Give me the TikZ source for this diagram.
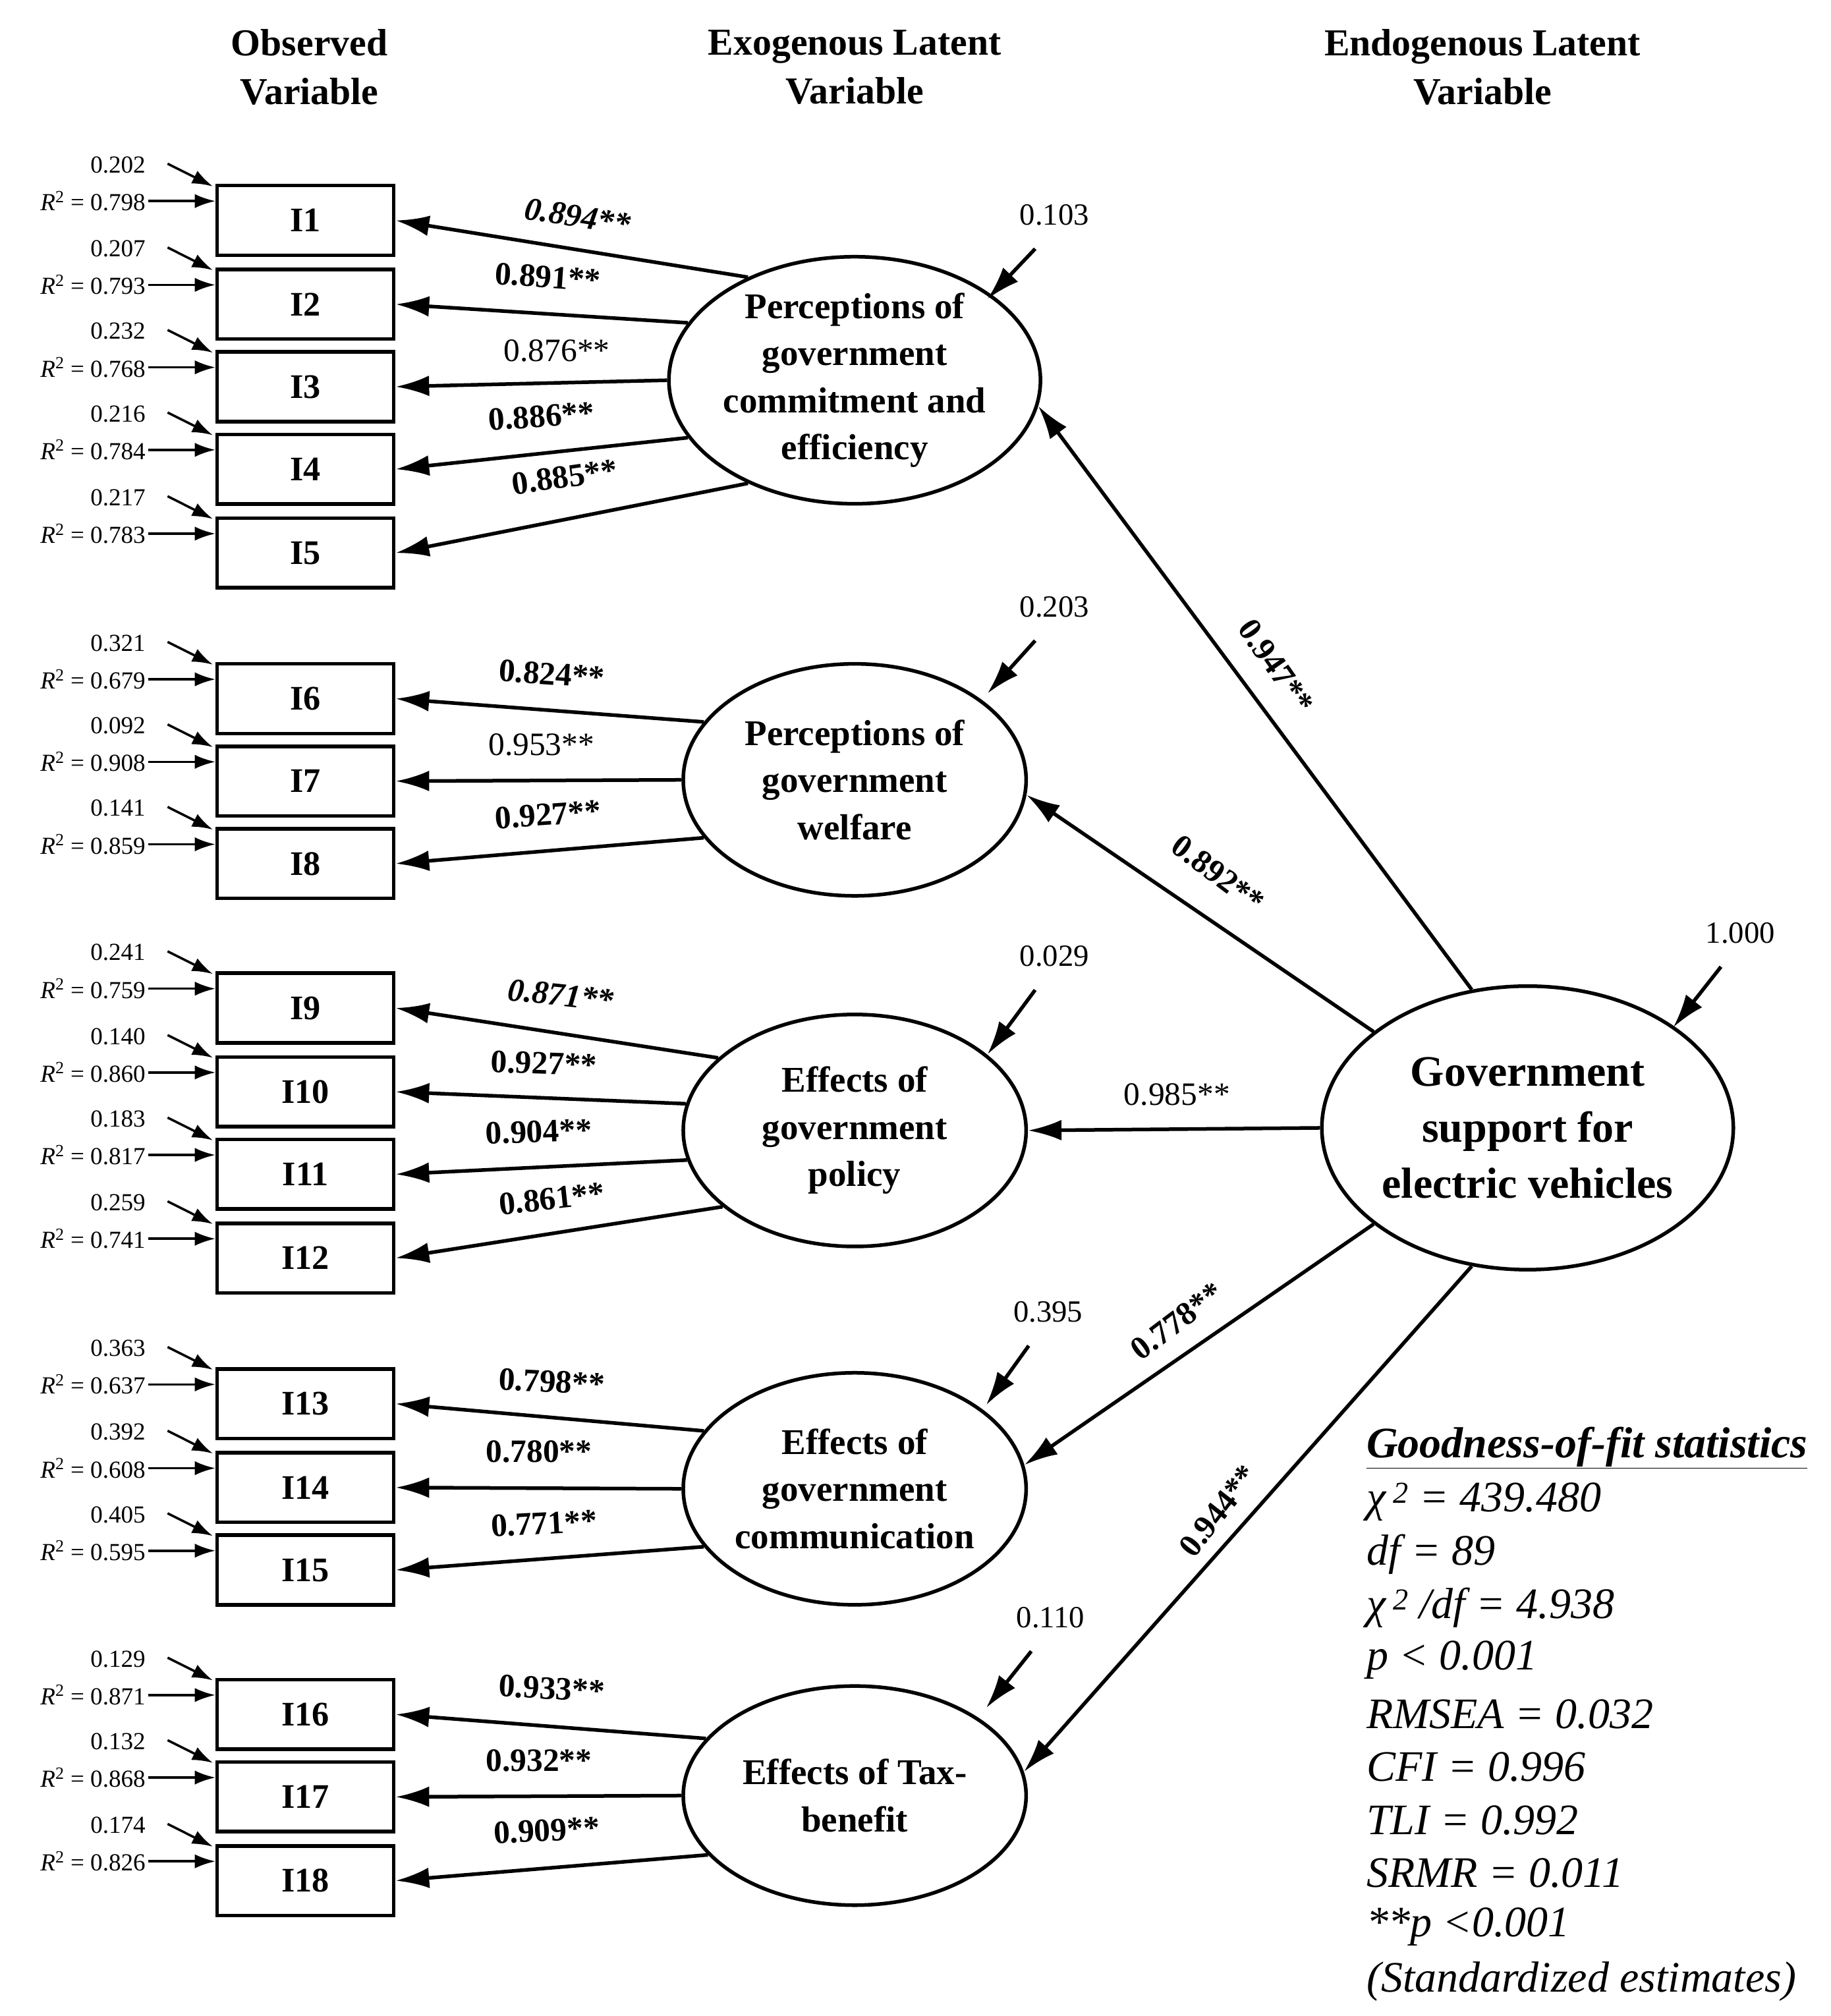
\documentclass[tikz,border=0pt]{standalone}
\usepackage{fontspec}
\setmainfont{Liberation Serif}
\usetikzlibrary{arrows.meta,shapes.geometric}
\newcommand{\fsz}[2]{\fontsize{#1}{#2}\selectfont}
\begin{document}
\begin{tikzpicture}[x=0.05cm,y=-0.05cm,
 box/.style={draw,line width=4pt,minimum width=6.85cm,minimum height=2.7cm,inner sep=0pt,font=\fsz{38}{46}\bfseries},
 lat/.style={draw,ellipse,line width=4pt,minimum width=13.3cm,minimum height=9cm,inner sep=0pt,align=center,font=\fsz{40}{52}\bfseries},
 big/.style={draw,ellipse,line width=4pt,minimum width=15.7cm,minimum height=11cm,inner sep=0pt,align=center,font=\fsz{48}{62}\bfseries},
 arr/.style={line width=4pt,-{Latex[length=1.3cm,width=0.8cm]}},
 sarr/.style={line width=2.6pt,-{Latex[length=0.8cm,width=0.55cm]}},
 lab/.style={font=\fsz{36}{40}\bfseries},
 labn/.style={font=\fsz{36}{40}},
 sm/.style={font=\fsz{27}{30},anchor=east,inner sep=0pt},
 res/.style={font=\fsz{34}{40}},
 hdr/.style={align=center,font=\fsz{42}{54}\bfseries},
 gof/.style={anchor=west,inner sep=0pt,font=\fsz{48}{58}\itshape}]
\useasboundingbox (0,0) rectangle (1420,1564);
\node[hdr] (h1) at (240,52) {Observed\\Variable};
\node[hdr] (h2) at (663,52) {Exogenous Latent\\Variable};
\node[hdr] (h3) at (1150,52) {Endogenous Latent\\Variable};
% boxes
\foreach \n/\y/\e/\r in {1/171/0.202/0.798,2/236/0.207/0.793,3/300/0.232/0.768,4/364/0.216/0.784,5/429/0.217/0.783,6/542/0.321/0.679,7/606/0.092/0.908,8/670/0.141/0.859,9/782/0.241/0.759,10/847/0.140/0.860,11/911/0.183/0.817,12/976/0.259/0.741,13/1089/0.363/0.637,14/1154/0.392/0.608,15/1218/0.405/0.595,16/1330/0.129/0.871,17/1394/0.132/0.868,18/1459/0.174/0.826}{
 \node[box] (I\n) at (237,\y) {I\n};
 \coordinate (d\n) at (130,\y-44);
 \coordinate (h\n) at (115,\y-15);
 \draw[sarr] (d\n) -- ([xshift=-0.1cm,yshift=-0.1cm]I\n.north west);
 \draw[sarr] (h\n) -- (I\n.west |- h\n);
 \node[sm] (e\n) at (113,\y-43) {\e};
 \node[sm] (r\n) at (113,\y-15) {\textit{R}\textsuperscript{2} = \r};
}
% latent
\node[lat] (E1) at (663,295) {Perceptions of\\government\\commitment and\\efficiency};
\node[lat] (E2) at (663,605) {Perceptions of\\government\\welfare};
\node[lat] (E3) at (663,877) {Effects of\\government\\policy};
\node[lat] (E4) at (663,1155) {Effects of\\government\\communication};
\node[lat,minimum height=8.5cm] (E5) at (663,1393) {Effects of Tax-\\benefit};
\node[big] (G) at (1185,875) {Government\\support for\\electric vehicles};
% loadings arrows
\draw[arr] (E1.136) -- (I1.east);
\draw[arr] (E1.161) -- (I2.east);
\draw[arr] (E1.180) -- (I3.east);
\draw[arr] (E1.199) -- (I4.east);
\draw[arr] (E1.224) -- (I5.east);
\draw[arr] (E2.159) -- (I6.east);
\draw[arr] (E2.180) -- (I7.east);
\draw[arr] (E2.201) -- (I8.east);
\draw[arr] (E3.152) -- (I9.east);
\draw[arr] (E3.171) -- (I10.east);
\draw[arr] (E3.190) -- (I11.east);
\draw[arr] (E3.210) -- (I12.east);
\draw[arr] (E4.159) -- (I13.east);
\draw[arr] (E4.180) -- (I14.east);
\draw[arr] (E4.201) -- (I15.east);
\draw[arr] (E5.159) -- (I16.east);
\draw[arr] (E5.180) -- (I17.east);
\draw[arr] (E5.202) -- (I18.east);
% structural
\draw[arr] (G.112) -- (E1.-8);
\draw[arr] (G.148) -- (E2.-5);
\draw[arr] (G.180) -- (E3.0);
\draw[arr] (G.212) -- (E4.8);
\draw[arr] (G.248) -- (E5.8);
% residuals
\foreach \E/\x/\y/\v in {E1/818/167/0.103,E2/818/471/0.203,E3/818/742/0.029,E4/813/1018/0.395,E5/815/1255/0.110,G/1350/724/1.000}{
 \node[res] (v\E) at (\x,\y) {\v};
 \coordinate (s\E) at (\x-15,\y+26);
}
\draw[arr] (sE1) -- (766,232);
\draw[arr] (sE2) -- (766,538);
\draw[arr] (sE3) -- (766,818);
\draw[arr] (sE4) -- (765,1090);
\draw[arr] (sE5) -- (765,1325);
\draw[arr] (sG) -- (1298,797);
% loading labels
\node[lab,font=\fsz{36}{40}\bfseries\itshape,rotate=-9] (l1) at (448,168) {0.894**};
\node[lab,rotate=-4] (l2) at (425,215) {0.891**};
\node[labn] (l3) at (432,272) {0.876**};
\node[lab,rotate=4] (l4) at (420,323) {0.886**};
\node[lab,rotate=8] (l5) at (438,370) {0.885**};
\node[lab,rotate=-4] (l6) at (428,523) {0.824**};
\node[labn] (l7) at (420,578) {0.953**};
\node[lab,rotate=4] (l8) at (425,632) {0.927**};
\node[lab,font=\fsz{36}{40}\bfseries\itshape,rotate=-6] (l9) at (435,772) {0.871**};
\node[lab,rotate=-2] (l10) at (422,825) {0.927**};
\node[lab,rotate=2] (l11) at (418,878) {0.904**};
\node[lab,rotate=6] (l12) at (428,930) {0.861**};
\node[lab,rotate=-3] (l13) at (428,1072) {0.798**};
\node[lab] (l14) at (418,1126) {0.780**};
\node[lab,rotate=3] (l15) at (422,1182) {0.771**};
\node[lab,rotate=-3] (l16) at (428,1310) {0.933**};
\node[lab] (l17) at (418,1366) {0.932**};
\node[lab,rotate=3] (l18) at (424,1420) {0.909**};
\node[lab,rotate=-55] (g1) at (990,517) {0.947**};
\node[lab,rotate=-37] (g2) at (945,678) {0.892**};
\node[labn] (g3) at (913,849) {0.985**};
\node[lab,rotate=37] (g4) at (913,1025) {0.778**};
\node[lab,rotate=52] (g5) at (945,1172) {0.944**};
% goodness of fit
\node[gof,font=\fsz{48}{58}\bfseries\itshape] (t0) at (1060,1123) {\underline{Goodness-of-fit statistics}};
\node[gof] (t1) at (1060,1165) {χ\,\textsuperscript{2} = 439.480};
\node[gof] (t2) at (1060,1206) {df = 89};
\node[gof] (t3) at (1060,1247) {χ\,\textsuperscript{2} /df = 4.938};
\node[gof] (t4) at (1060,1288) {p < 0.001};
\node[gof] (t5) at (1060,1330) {RMSEA = 0.032};
\node[gof] (t6) at (1060,1371) {CFI = 0.996};
\node[gof] (t7) at (1060,1412) {TLI = 0.992};
\node[gof] (t8) at (1060,1453) {SRMR = 0.011};
\node[gof] (t9) at (1060,1495) {**p <0.001};
\node[gof] (t10) at (1060,1537) {(Standardized estimates)};
\end{tikzpicture}
\end{document}
